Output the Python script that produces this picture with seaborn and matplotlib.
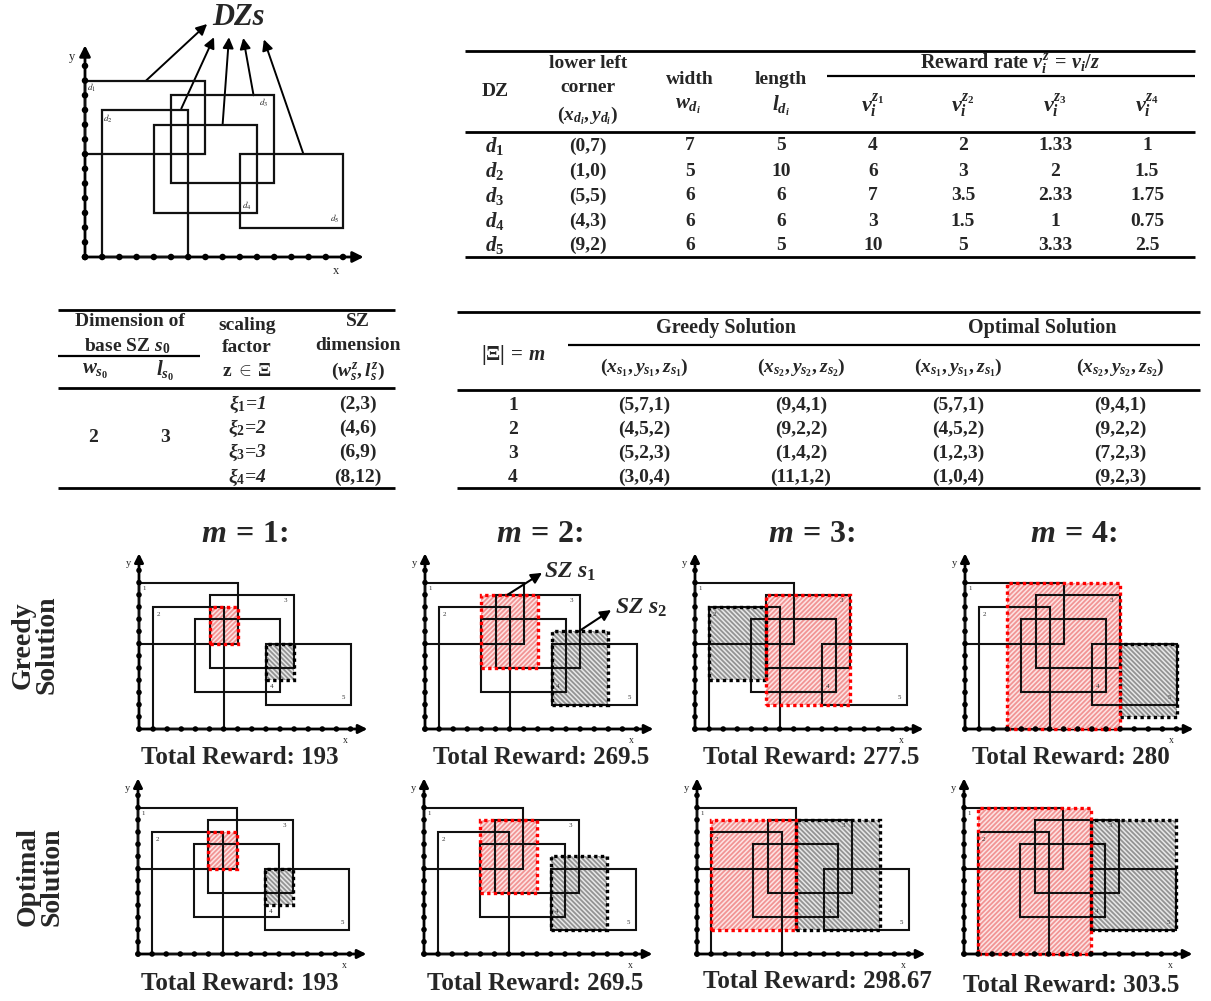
import matplotlib
matplotlib.use("Agg")
import matplotlib.pyplot as plt
import seaborn as sns
import numpy as np
from matplotlib.patches import Rectangle

# demand zones (DZ)
dz_names = ["d_1", "d_2", "d_3", "d_4", "d_5"]
dz_x = [0, 1, 5, 4, 9]
dz_y = [7, 0, 5, 3, 2]
dz_w = [7, 5, 6, 6, 6]
dz_l = [5, 10, 6, 6, 5]
v_z1 = ["4", "6", "7", "3", "10"]
v_z2 = ["2", "3", "3.5", "1.5", "5"]
v_z3 = ["1.33", "2", "2.33", "1", "3.33"]
v_z4 = ["1", "1.5", "1.75", "0.75", "2.5"]

# service zones (SZ)
base_w, base_l = 2, 3
scale_factors = [1, 2, 3, 4]
sz_dims = [(2, 3), (4, 6), (6, 9), (8, 12)]

m_values = [1, 2, 3, 4]
greedy_s1 = [(5, 7, 1), (4, 5, 2), (5, 2, 3), (3, 0, 4)]
greedy_s2 = [(9, 4, 1), (9, 2, 2), (1, 4, 2), (11, 1, 2)]
optimal_s1 = [(5, 7, 1), (4, 5, 2), (1, 2, 3), (1, 0, 4)]
optimal_s2 = [(9, 4, 1), (9, 2, 2), (7, 2, 3), (9, 2, 3)]
greedy_reward = ["193", "269.5", "277.5", "280"]
optimal_reward = ["193", "269.5", "298.67", "303.5"]

# label spots inside each DZ (data units)
dz_label_pos = [(0.4, 11.5), (1.35, 9.4), (10.4, 10.5), (9.4, 3.5), (14.5, 2.6)]

sns.set_style("white")
plt.rcParams["font.family"] = ["Liberation Serif", "DejaVu Serif"]
plt.rcParams["mathtext.fontset"] = "custom"
plt.rcParams["mathtext.rm"] = "Liberation Serif:bold"
plt.rcParams["mathtext.it"] = "Liberation Serif:italic:bold"
plt.rcParams["mathtext.bf"] = "Liberation Serif:bold"
plt.rcParams["hatch.linewidth"] = 1.3

W, H = 1211, 1001
fig = plt.figure(figsize=(W / 100, H / 100), dpi=100)
bg = fig.add_axes([0, 0, 1, 1])
bg.set_xlim(0, W)
bg.set_ylim(H, 0)
bg.axis("off")


def T(x, y, s, size=14, **kw):
    kw.setdefault("fontweight", "bold")
    bg.text(x, y, s, ha="center", va="center", fontsize=size, **kw)


def rule(y, x0, x1, lw=1.6):
    bg.plot([x0, x1], [y, y], color="black", lw=lw, solid_capstyle="butt")


def make_panel(ox, oy, ux, uy, xlim=(-1, 17), ylim=(-1.6, 15)):
    left = ox + xlim[0] * ux
    bottom = oy - ylim[0] * uy
    w = (xlim[1] - xlim[0]) * ux
    h = (ylim[1] - ylim[0]) * uy
    ax = fig.add_axes([left / W, 1 - bottom / H, w / W, h / H])
    ax.set_xlim(xlim)
    ax.set_ylim(ylim)
    ax.axis("off")
    return ax


def draw_dz(ax, lw=1.5, dot_s=16, big=False):
    head = 16 if big else 13
    ax.annotate("", xy=(16.2, 0), xytext=(0, 0),
                arrowprops=dict(arrowstyle="-|>", color="k", lw=2, mutation_scale=head,
                                shrinkA=0, shrinkB=0))
    ax.annotate("", xy=(0, 14.4), xytext=(0, 0),
                arrowprops=dict(arrowstyle="-|>", color="k", lw=2, mutation_scale=head,
                                shrinkA=0, shrinkB=0))
    xs = np.arange(16)
    ys = np.arange(14)
    sns.scatterplot(x=xs, y=np.zeros(len(xs)), ax=ax, color="k", s=dot_s,
                    edgecolor="none", zorder=6, legend=False, clip_on=False)
    sns.scatterplot(x=np.zeros(len(ys)), y=ys, ax=ax, color="k", s=dot_s,
                    edgecolor="none", zorder=6, legend=False, clip_on=False)
    for i in range(len(dz_x)):
        ax.add_patch(Rectangle((dz_x[i], dz_y[i]), dz_w[i], dz_l[i], fill=False,
                               lw=lw, ec="#111111", zorder=3.5))
        lx, ly = dz_label_pos[i]
        if big:
            ax.text(lx, ly, "$" + dz_names[i] + "$", fontsize=6.5, ha="center",
                    va="center", math_fontfamily="stix")
        else:
            ax.text(lx, ly, str(i + 1), fontsize=5, ha="center", va="center",
                    color="#333333", zorder=5)
    ax.text(-0.75, 13.6, "y", fontsize=9 if big else 7.5, ha="center", va="center")
    ax.text(14.6, -0.95, "x", fontsize=9 if big else 7, ha="center", va="center")


def draw_sz(ax, sz, red):
    x, y, z = sz
    w, l = sz_dims[z - 1]
    if red:
        face, hc, hatch, border = "#fde2e2", "#f08c8c", "///////", "#ff0000"
    else:
        face, hc, hatch, border = "#e6e6e6", "#8a8a8a", "\\\\\\\\\\\\\\", "black"
    ax.add_patch(Rectangle((x, y), w, l, facecolor=face, edgecolor=hc, hatch=hatch,
                           lw=0, alpha=0.9, zorder=3))
    ax.add_patch(Rectangle((x, y), w, l, fill=False, edgecolor=border, lw=2.4,
                           linestyle=(0, (1, 1)), zorder=4))


# ---- top-left DZ diagram ----
ax0 = make_panel(85, 257, 17.2, 14.7, xlim=(-1, 17), ylim=(-1, 17.5))
draw_dz(ax0, lw=1.6, dot_s=22, big=True)
ax0.text(8.9, 16.3, "DZs", fontsize=22, fontweight="bold", fontstyle="italic",
         ha="center", va="center")
arrow_tails = [(3.55, 12), (5.6, 10.1), (8.0, 9), (9.8, 11), (12.7, 7)]
arrow_tips = [(7.1, 15.85), (7.5, 14.95), (8.37, 14.95), (9.2, 14.9), (10.4, 14.8)]
for tail, tip in zip(arrow_tails, arrow_tips):
    ax0.annotate("", xy=tip, xytext=tail,
                 arrowprops=dict(arrowstyle="-|>", color="k", lw=1.4, mutation_scale=16,
                                 shrinkA=0, shrinkB=0))

# ---- top-right DZ table ----
rule(51, 465, 1195, 2)
rule(76, 827, 1195, 1.6)
rule(132, 465, 1195, 2)
rule(257, 465, 1195, 2)
T(495, 92, "DZ")
T(588, 64, "lower left")
T(588, 88, "corner")
T(588, 116, r"$(x_{d_i},y_{d_i})$", size=14)
T(690, 79, "width")
T(688, 106, r"$w_{d_i}$", size=15)
T(781, 79, "length")
T(781, 106, r"$l_{d_i}$", size=15)
T(1010, 64, r"Reward rate $v_i^z\,=\,v_i/z$", size=14.5)
for k, xc in enumerate([873, 963, 1055, 1147]):
    T(xc, 106, r"$v_i^{z_%d}$" % (k + 1), size=16)
row_y = [146, 171, 196, 221, 245]
for i in range(5):
    T(495, row_y[i], "$" + dz_names[i] + "$", size=15)
    T(588, row_y[i], "(%d,%d)" % (dz_x[i], dz_y[i]))
    T(690, row_y[i], str(dz_w[i]))
    T(781, row_y[i], str(dz_l[i]))
    T(873, row_y[i], v_z1[i])
    T(963, row_y[i], v_z2[i])
    T(1055, row_y[i], v_z3[i])
    T(1147, row_y[i], v_z4[i])

# ---- middle-left SZ table ----
rule(310, 58, 395, 2)
rule(356, 58, 200, 1.6)
rule(388, 58, 395, 2)
rule(488, 58, 395, 2)
T(130, 322, "Dimension of")
T(127, 346, r"base SZ $s_0$")
T(95, 371, r"$w_{s_0}$", size=15)
T(165, 371, r"$l_{s_0}$", size=15)
T(247, 325, "scaling")
T(247, 348, "factor")
T(247, 371, r"z $\in\,\Xi$")
T(358, 322, "SZ")
T(358, 346, "dimension")
T(358, 371, r"$(w_s^z,l_s^z)$", size=14)
sz_row_y = [404, 428, 452, 477]
for k in range(4):
    T(247, sz_row_y[k], r"$\xi_{%d}$=%d" % (k + 1, scale_factors[k]), fontstyle="italic")
    T(358, sz_row_y[k], "(%d,%d)" % sz_dims[k])
T(93, 438, str(base_w))
T(165, 438, str(base_l))

# ---- middle-right solution table ----
rule(312, 457, 1200, 2)
rule(345, 568, 1200, 1.6)
rule(390, 457, 1200, 2)
rule(488, 457, 1200, 2)
T(513, 355, r"$|\Xi|\,=\,m$", size=15)
T(726, 328, "Greedy Solution", size=14.5)
T(1042, 328, "Optimal Solution", size=14.5)
T(644, 368, r"$(x_{s_1},y_{s_1},z_{s_1})$", size=14)
T(801, 368, r"$(x_{s_2},y_{s_2},z_{s_2})$", size=14)
T(958, 368, r"$(x_{s_1},y_{s_1},z_{s_1})$", size=14)
T(1120, 368, r"$(x_{s_2},y_{s_2},z_{s_2})$", size=14)
sol_row_y = [405, 429, 453, 477]
for k in range(4):
    T(513, sol_row_y[k], str(m_values[k]))
    T(644, sol_row_y[k], "(%d,%d,%d)" % greedy_s1[k])
    T(801, sol_row_y[k], "(%d,%d,%d)" % greedy_s2[k])
    T(958, sol_row_y[k], "(%d,%d,%d)" % optimal_s1[k])
    T(1120, sol_row_y[k], "(%d,%d,%d)" % optimal_s2[k])

# ---- bottom panels ----
title_x = [245, 540, 812, 1074]
g_orig_x = [139, 425, 695, 965]
o_orig_x = [138, 424, 697, 964]
g_rew_x = [240, 541, 811, 1071]
o_rew_x = [240, 535, 817, 1071]
o_rew_y = [984, 983, 981, 986]

for k in range(4):
    T(title_x[k], 535, r"$m\,=\,%d$:" % m_values[k], size=23)
    axg = make_panel(g_orig_x[k], 729, 14.1, 12.2)
    draw_dz(axg)
    draw_sz(axg, greedy_s2[k], red=False)
    draw_sz(axg, greedy_s1[k], red=True)
    T(g_rew_x[k], 757, "Total Reward: " + greedy_reward[k], size=18)

    axo = make_panel(o_orig_x[k], 954, 14.1, 12.2)
    draw_dz(axo)
    draw_sz(axo, optimal_s2[k], red=False)
    draw_sz(axo, optimal_s1[k], red=True)
    T(o_rew_x[k], o_rew_y[k], "Total Reward: " + optimal_reward[k], size=18)

    if k == 1:
        axg.annotate("", xy=(8.3, 12.8), xytext=(5.85, 11),
                     arrowprops=dict(arrowstyle="-|>", color="k", lw=1.5, mutation_scale=16,
                                     shrinkA=0, shrinkB=0), zorder=7)
        axg.annotate("", xy=(13.2, 9.75), xytext=(10.9, 8),
                     arrowprops=dict(arrowstyle="-|>", color="k", lw=1.5, mutation_scale=16,
                                     shrinkA=0, shrinkB=0), zorder=7)
        axg.text(8.45, 12.9, r"$SZ\ s_1$", fontsize=17, ha="left", va="center", zorder=7)
        axg.text(13.5, 9.9, r"$SZ\ s_2$", fontsize=17, ha="left", va="center", zorder=7)

T(35, 645, "Greedy\nSolution", size=20, rotation=90, linespacing=0.95)
T(40, 877, "Optimal\nSolution", size=20, rotation=90, linespacing=0.95)

fig.savefig("out.png", dpi=100)
